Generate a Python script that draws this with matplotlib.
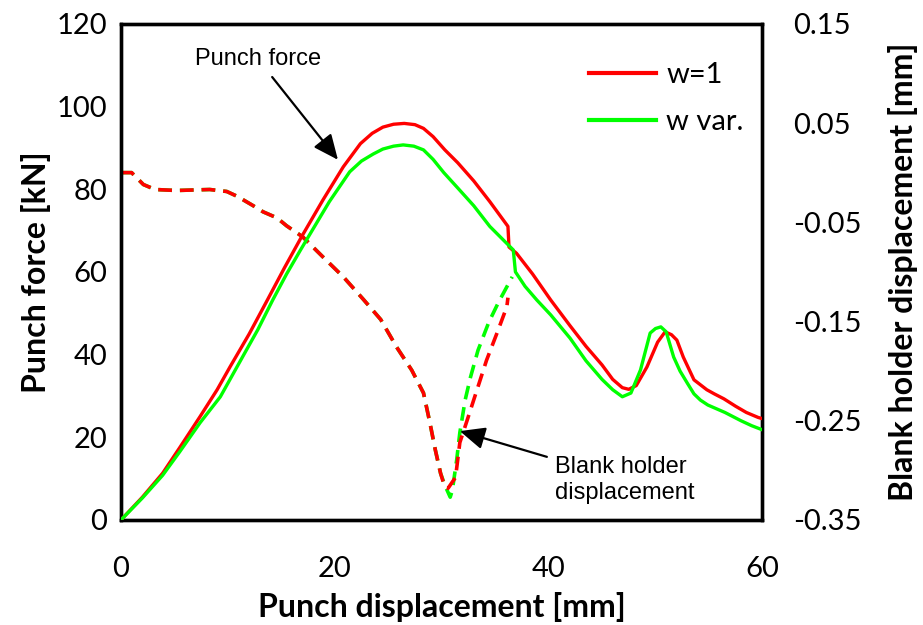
import matplotlib
matplotlib.use('Agg')
import matplotlib.pyplot as plt

# punch force vs punch displacement, w=1
red_x = [0, 2.0, 3.9, 5.5, 7.4, 9.0, 10.2, 12.0, 13.7, 15.3, 16.9, 18.9, 20.3, 20.8,
         22.4, 23.5, 24.5, 25.5, 26.5, 27.5, 28.3, 29.2, 30.3, 31.5, 33.0, 34.5, 36.2,
         36.3, 37.0, 38.5, 40.2, 42.0, 43.5, 45.0, 46.0, 46.9, 47.5, 48.2, 49.2, 50.2,
         50.9, 51.5, 52.0, 52.6, 53.6, 54.8, 55.5, 56.4, 57.5, 58.5, 59.6, 60.0]
red_f = [0, 5.5, 11.3, 17.5, 25.0, 31.5, 37.0, 45.0, 53.2, 61.0, 68.5, 77.4, 83.3, 85.4,
         91.0, 93.5, 95.0, 95.7, 95.9, 95.6, 94.7, 92.7, 89.5, 86.4, 82.0, 77.0, 71.0,
         66.0, 64.5, 59.5, 53.2, 47.0, 42.0, 37.5, 34.0, 32.0, 31.6, 32.5, 37.0, 43.0,
         45.5, 44.8, 43.5, 39.4, 33.9, 31.5, 30.5, 29.3, 27.5, 26.0, 24.8, 24.5]

# punch force, w var.
grn_x = [0, 2.0, 3.9, 5.5, 7.4, 9.3, 11.5, 12.8, 14.2, 15.5, 16.8, 18.0, 19.5, 21.4,
         22.5, 23.6, 24.5, 25.5, 26.4, 27.4, 28.3, 29.2, 30.2, 31.5, 33.0, 34.5, 36.7,
         36.9, 37.8, 38.9, 40.2, 42.0, 43.5, 45.0, 46.0, 46.9, 47.7, 48.6, 49.5, 50.0,
         50.5, 51.0, 51.7, 52.3, 53.0, 53.6, 54.2, 54.9, 56.5, 58.0, 59.0, 60.0]
grn_f = [0, 5.3, 10.8, 16.5, 23.5, 29.8, 40.0, 46.0, 53.2, 59.5, 65.3, 70.5, 77.0, 84.2,
         86.8, 88.5, 89.7, 90.4, 90.7, 90.4, 89.5, 87.2, 84.0, 80.3, 76.0, 71.0, 65.3,
         60.0, 56.5, 53.2, 49.6, 44.0, 38.5, 34.0, 31.5, 29.8, 30.7, 36.3, 45.2, 46.3,
         46.7, 45.5, 39.4, 36.0, 33.0, 30.5, 29.0, 27.8, 26.0, 24.0, 22.8, 21.8]

# blank holder displacement, w=1
red_bx = [0, 1.0, 2.1, 3.2, 5.2, 8.3, 9.9, 10.9, 12.4, 13.3, 14.6, 15.5, 17.0, 18.9,
          20.8, 22.7, 24.3, 25.8, 27.2, 28.3, 28.9, 29.4, 29.9, 30.3, 30.6, 31.3, 31.7,
          32.4, 33.3, 34.2, 35.2, 36.1, 36.2]
red_bd = [0.0, 0.0, -0.012, -0.017, -0.018, -0.017, -0.019, -0.024, -0.0335, -0.0395,
          -0.0456, -0.0536, -0.0647, -0.085, -0.105, -0.128, -0.148, -0.176, -0.199,
          -0.222, -0.252, -0.279, -0.303, -0.317, -0.318, -0.307, -0.272, -0.249,
          -0.219, -0.189, -0.161, -0.135, -0.126]

# blank holder displacement, w var.
grn_bx = [0, 1.0, 2.1, 3.2, 5.2, 8.3, 9.9, 10.9, 12.4, 13.3, 14.6, 15.5, 17.0, 18.9,
          20.8, 22.7, 24.3, 25.8, 27.2, 28.3, 28.9, 29.4, 29.9, 30.3, 30.8, 31.0, 31.4,
          31.7, 32.2, 32.7, 33.4, 34.4, 35.3, 36.1, 36.6]
grn_bd = [0.0, 0.0, -0.012, -0.017, -0.018, -0.017, -0.019, -0.024, -0.0335, -0.0395,
          -0.0456, -0.0536, -0.0647, -0.085, -0.105, -0.128, -0.148, -0.176, -0.199,
          -0.222, -0.252, -0.279, -0.303, -0.315, -0.327, -0.320, -0.290, -0.262,
          -0.229, -0.206, -0.179, -0.151, -0.131, -0.115, -0.105]

RED = '#ff0000'
GREEN = '#00ff00'
plt.rcParams['font.family'] = ['Lato', 'DejaVu Sans']

fig = plt.figure(figsize=(9.23, 6.25), dpi=100)
ax = fig.add_axes([0.131, 0.168, 0.695, 0.794])
ax2 = ax.twinx()

ax.plot(red_x, red_f, color=RED, lw=2.4, label='w=1', zorder=3)
ax.plot(grn_x, grn_f, color=GREEN, lw=2.4, label='w var.', zorder=3)
ax2.plot(grn_bx, grn_bd, color=GREEN, lw=2.6, dashes=(3.8, 2.2))
ax2.plot(red_bx, red_bd, color=RED, lw=2.6, dashes=(3.8, 2.2))

ax.set_xlim(0, 60)
ax.set_ylim(0, 120)
ax2.set_ylim(-0.35, 0.15)
ax.set_xticks([0, 20, 40, 60])
ax.set_yticks(range(0, 121, 20))
ax2.set_yticks([-0.35, -0.25, -0.15, -0.05, 0.05, 0.15])
ax2.set_yticklabels(['-0.35', '-0.25', '-0.15', '-0.05', '0.05', '0.15'])

ax.tick_params(axis='y', length=0, labelsize=21, pad=10)
ax.tick_params(axis='x', length=0, labelsize=21, pad=26)
ax2.tick_params(axis='y', length=0, labelsize=21, pad=22)
for a in (ax, ax2):
    for s in a.spines.values():
        s.set_linewidth(2.4)

ax.set_xlabel('Punch displacement [mm]', fontsize=23, fontweight='bold', labelpad=7)
ax.set_ylabel('Punch force [kN]', fontsize=23, fontweight='bold', labelpad=4)
ax2.set_ylabel('Blank holder displacement [mm]', fontsize=23, fontweight='bold', labelpad=19)

# keep the force curves above the twin axes' dashed lines
ax.set_zorder(ax2.get_zorder() + 1)
ax.patch.set_visible(False)

arrow = dict(arrowstyle='-|>,head_length=0.9,head_width=0.4', color='black', lw=1.6,
             shrinkA=4, shrinkB=0)
ann_font = ['Liberation Sans', 'DejaVu Sans']
ax.annotate('Punch force', xy=(20.3, 87.1), xytext=(12.8, 111.5),
            ha='center', va='center', fontsize=17, family=ann_font, arrowprops=arrow)
ax.annotate('Blank holder\ndisplacement', xy=(31.7, 21.5), xytext=(40.6, 9.7),
            ha='left', va='center', fontsize=17, family=ann_font, linespacing=1.25,
            arrowprops=arrow)

leg = ax.legend(loc='upper right', bbox_to_anchor=(1.012, 0.975), frameon=False,
                fontsize=21, handlelength=2.3, handletextpad=0.35, labelspacing=0.7)
for line in leg.get_lines():
    line.set_linewidth(3)

fig.savefig('out.png', dpi=100)
